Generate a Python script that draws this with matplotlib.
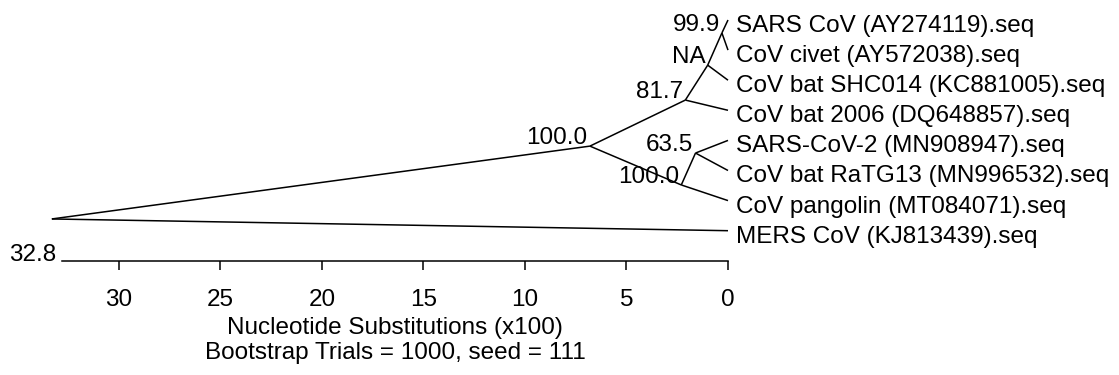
import matplotlib
matplotlib.use("Agg")
import matplotlib.pyplot as plt

# ---------------- data ----------------
# tips (row index from top, all at distance 0)
tip_names = [
    "SARS CoV (AY274119).seq",
    "CoV civet (AY572038).seq",
    "CoV bat SHC014 (KC881005).seq",
    "CoV bat 2006 (DQ648857).seq",
    "SARS-CoV-2 (MN908947).seq",
    "CoV bat RaTG13 (MN996532).seq",
    "CoV pangolin (MT084071).seq",
    "MERS CoV (KJ813439).seq",
]
tip_rows = [0, 1, 2, 3, 4, 5, 6, 7]
tip_depth = [0, 0, 0, 0, 0, 0, 0, 0]

# internal nodes: name, depth (x100 substitutions), row position, bootstrap label
node_names = ["root", "n_main", "n_817", "n_NA", "n_999", "n_100b", "n_635"]
node_depth = [33.3, 6.8, 2.1, 1.0, 0.3, 2.3, 1.6]
node_rows = [6.61, 4.19, 2.66, 1.50, 0.43, 5.48, 4.42]
node_labels = ["", "100.0", "81.7", "NA", "99.9", "100.0", "63.5"]

# edges (parent -> child)
edges = [
    ("root", "n_main"), ("root", "MERS CoV (KJ813439).seq"),
    ("n_main", "n_817"), ("n_main", "n_100b"),
    ("n_817", "n_NA"), ("n_817", "CoV bat 2006 (DQ648857).seq"),
    ("n_NA", "n_999"), ("n_NA", "CoV bat SHC014 (KC881005).seq"),
    ("n_999", "SARS CoV (AY274119).seq"), ("n_999", "CoV civet (AY572038).seq"),
    ("n_100b", "n_635"), ("n_100b", "CoV pangolin (MT084071).seq"),
    ("n_635", "SARS-CoV-2 (MN908947).seq"), ("n_635", "CoV bat RaTG13 (MN996532).seq"),
]

scale_max = 32.8
tick_values = [30, 25, 20, 15, 10, 5, 0]
xlabel_text = "Nucleotide Substitutions (x100)"
subtitle_text = "Bootstrap Trials = 1000, seed = 111"

# ---------------- plot ----------------
plt.rcParams['font.family'] = ['Liberation Sans', 'DejaVu Sans']
FS = 17.5
W, H = 1119, 375
fig = plt.figure(figsize=(W / 100, H / 100), dpi=100)

x0_px, x1_px, axis_y_px = 62, 728, 261
ax = fig.add_axes([x0_px / W, (H - axis_y_px) / H, (x1_px - x0_px) / W, axis_y_px / H])
ax.set_xlim(scale_max, 0)
row0_px, row_step = 20, 30.1
ax.set_ylim((axis_y_px - row0_px) / row_step, -row0_px / row_step)

pos = {}
for n, d, r in zip(node_names, node_depth, node_rows):
    pos[n] = (d, r)
for n, d, r in zip(tip_names, tip_depth, tip_rows):
    pos[n] = (d, r)

for p, c in edges:
    (xa, ya), (xb, yb) = pos[p], pos[c]
    ax.plot([xa, xb], [ya, yb], color='black', lw=1.1, clip_on=False,
            solid_capstyle='butt')

for n, d, r in zip(tip_names, tip_depth, tip_rows):
    ax.annotate(n, (d, r), xytext=(5.5, -8.6), textcoords='offset points',
                ha='left', va='baseline', fontsize=FS, color='black',
                annotation_clip=False)

for n, d, r, lab in zip(node_names, node_depth, node_rows, node_labels):
    if lab:
        ax.annotate(lab, (d, r), xytext=(-1.6, 1.4), textcoords='offset points',
                    ha='right', va='baseline', fontsize=FS, color='black',
                    annotation_clip=False)

# scale axis
for s in ['top', 'left', 'right']:
    ax.spines[s].set_visible(False)
ax.spines['bottom'].set_linewidth(1.1)
ax.patch.set_visible(False)
ax.set_yticks([])
ax.set_xticks(tick_values)
ax.set_xticklabels([str(t) for t in tick_values])
ax.tick_params(axis='x', direction='out', length=6.5, width=1.1, pad=14,
               labelsize=FS, colors='black')

ax.annotate(f"{scale_max}", (scale_max, ax.get_ylim()[0]), xytext=(-4.3, 0),
            textcoords='offset points', ha='right', va='baseline',
            fontsize=FS, annotation_clip=False)

cx = (x0_px + x1_px) / 2 / W
fig.text(cx, (H - 334) / H, xlabel_text, ha='center', va='baseline', fontsize=FS)
fig.text(cx, (H - 359) / H, subtitle_text, ha='center', va='baseline', fontsize=FS)

fig.savefig("out.png", dpi=100)
